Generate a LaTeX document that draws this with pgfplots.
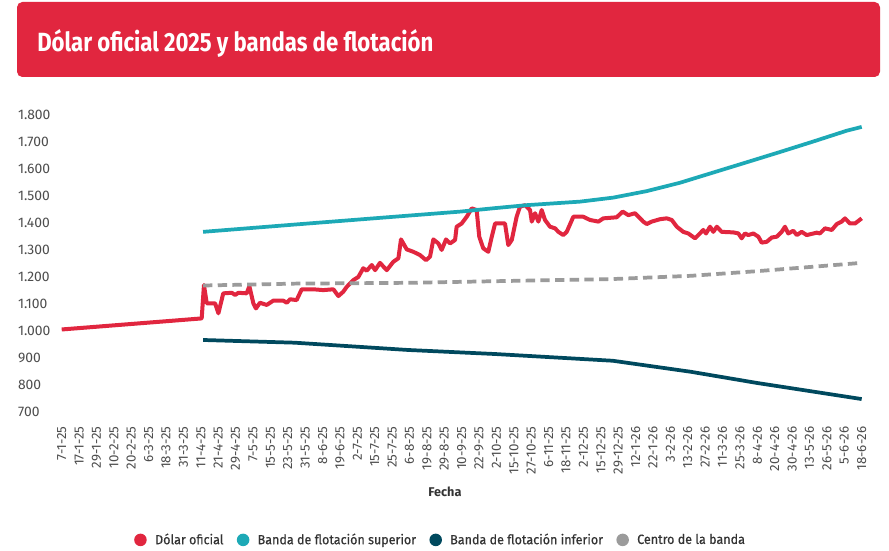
\documentclass[border=0pt]{standalone}
\usepackage{fontspec}
\setmainfont{Fira Sans}
\newfontfamily\legfont[FakeBold=0.4, FakeStretch=0.94]{Fira Sans}
\usepackage{pgfplots}
\pgfplotsset{compat=1.18}
\definecolor{cred}{HTML}{E1263F}
\definecolor{cteal}{HTML}{1DA9B6}
\definecolor{cdark}{HTML}{00495E}
\definecolor{cgray}{HTML}{9B9B9B}
\definecolor{ctick}{HTML}{4D4D4D}
\definecolor{ctext}{HTML}{333333}
\begin{document}
\begin{tikzpicture}
\useasboundingbox (0,0) rectangle (666.75pt,412.5pt);
\fill[white] (0,0) rectangle (666.75pt,412.5pt);
\fill[cred, rounded corners=4pt] (12.75pt,354.75pt) rectangle (660pt,411pt);
\node[anchor=base west, inner sep=0pt, text=white] at (27.75pt,373.7pt) {\resizebox{297pt}{16.5pt}{\bfseries Dólar oficial 2025 y bandas de flotación}};
\begin{axis}[
 at={(41.06pt,103.7pt)}, anchor=south west,
 scale only axis, width=607.8pt, height=222.5pt,
 xmin=-0.4, xmax=46.2, ymin=700, ymax=1800,
 clip=false,
 axis line style={draw=none},
 major tick length=0pt,
 ytick={700,800,...,1800},
 yticklabels={700,800,900,1.000,1.100,1.200,1.300,1.400,1.500,1.600,1.700,1.800},
 xtick={0,1,...,46},
 xticklabels={7-1-25,17-1-25,29-1-25,10-2-25,20-2-25,6-3-25,18-3-25,31-3-25,11-4-25,21-4-25,29-4-25,7-5-25,15-5-25,23-5-25,31-5-25,8-6-25,19-6-25,2-7-25,15-7-25,25-7-25,6-8-25,19-8-25,29-8-25,10-9-25,22-9-25,2-10-25,15-10-25,27-10-25,6-11-25,18-11-25,2-12-25,15-12-25,29-12-25,12-1-26,22-1-26,3-2-26,13-2-26,27-2-26,11-3-26,25-3-26,8-4-26,20-4-26,30-4-26,13-5-26,26-5-26,5-6-26,18-6-26},
 xticklabel style={yshift=-11pt, rotate=90, anchor=east, inner sep=0pt, font=\fontsize{10}{12}\selectfont, text=ctick},
 yticklabel style={anchor=west, inner sep=0pt, xshift=-27.75pt, font=\fontsize{10.4}{12}\selectfont, text=ctick},
 xlabel={Fecha},
 xlabel style={at={(axis description cs:0.4815,-0.2706)}, anchor=center, font=\bfseries\fontsize{9.5}{11}\selectfont, text=ctext},
 legend columns=4,
 legend style={at={(0.4765,-0.432)}, anchor=center, draw=none, fill=none, inner sep=0pt, font=\legfont\fontsize{10}{12}\selectfont, text=ctext, /tikz/every even column/.append style={column sep=8pt}},
 legend image code/.code={\fill[#1, draw=none] (0pt,0pt) circle (4.7pt); \path (7.5pt,0pt);},
]
\addplot[cred, line width=3pt, line join=round] coordinates {
(0,1005) (8.05,1046) (8.18,1170) (8.34,1102) (8.82,1102) (9.01,1065) (9.29,1139) (9.78,1141) (9.97,1133) (10.16,1141) (10.64,1139) (10.79,1166) (11.02,1102) (11.17,1083) (11.40,1104) (11.79,1096) (12.17,1112) (12.74,1112) (12.94,1104) (13.13,1117) (13.51,1114) (13.80,1154) (14.47,1154) (15.04,1151) (15.62,1154) (15.91,1129) (16.19,1145) (16.39,1163) (16.77,1188) (17.06,1200) (17.34,1232) (17.54,1223) (17.83,1244) (18.02,1225) (18.30,1252) (18.69,1225) (19.07,1256) (19.36,1269) (19.51,1339) (19.84,1302) (20.22,1293) (20.60,1281) (20.95,1262) (21.18,1275) (21.37,1339) (21.66,1324) (21.85,1300) (22.10,1339) (22.33,1324) (22.62,1337) (22.71,1386) (23.00,1398) (23.29,1423) (23.58,1454) (23.86,1448) (24.01,1349) (24.24,1306) (24.53,1293) (24.73,1349) (24.92,1398) (25.49,1398) (25.68,1318) (25.88,1337) (26.16,1423) (26.35,1460) (26.64,1466) (26.93,1448) (27.03,1405) (27.22,1436) (27.41,1405) (27.60,1448) (27.79,1411) (28.08,1386) (28.37,1380) (28.56,1367) (28.84,1355) (29.04,1367) (29.42,1423) (29.99,1423) (30.38,1411) (30.86,1405) (31.14,1417) (31.91,1421) (32.26,1442) (32.58,1429) (32.97,1436) (33.44,1405) (33.64,1396) (33.93,1405) (34.41,1414) (34.79,1417) (35.08,1411) (35.37,1386) (35.74,1367) (36.03,1361) (36.42,1343) (36.70,1361) (36.89,1374) (37.05,1361) (37.28,1386) (37.47,1367) (37.67,1386) (37.95,1367) (38.62,1365) (38.91,1361) (39.10,1343) (39.29,1361) (39.48,1355) (39.77,1361) (40.06,1349) (40.25,1327) (40.54,1330) (40.83,1346) (41.12,1349) (41.40,1367) (41.59,1386) (41.78,1361) (42.07,1371) (42.27,1355) (42.55,1367) (42.84,1355) (43.42,1364) (43.60,1361) (43.89,1380) (44.28,1374) (44.57,1396) (44.85,1405) (45.04,1417) (45.33,1398) (45.62,1398) (46,1417)
};
\addlegendentry{Dólar oficial}
\addplot[cteal, line width=2.8pt] coordinates {
(8.13,1367) (13.39,1394) (19.91,1427) (22.91,1442) (24.92,1455) (26.74,1466) (29.80,1479) (31.72,1494) (33.64,1518) (35.55,1549) (37.47,1587) (39.39,1625) (41.30,1663) (43.22,1702) (45.14,1742) (46,1756)
};
\addlegendentry{Banda de flotación superior}
\addplot[cdark, line width=2.8pt] coordinates {
(8.13,966) (13.39,956) (19.91,929) (24.92,914) (31.69,889) (36.19,848) (39.95,807) (46,747)
};
\addlegendentry{Banda de flotación inferior}
\addplot[cgray, line width=2.8pt, dash pattern=on 7pt off 4pt] coordinates {
(8.13,1168) (13.39,1175) (19.91,1178) (24.92,1184) (31.69,1192) (36.19,1204) (39.95,1221) (42.5,1234) (46,1252)
};
\addlegendentry{Centro de la banda}
\end{axis}
\end{tikzpicture}
\end{document}
